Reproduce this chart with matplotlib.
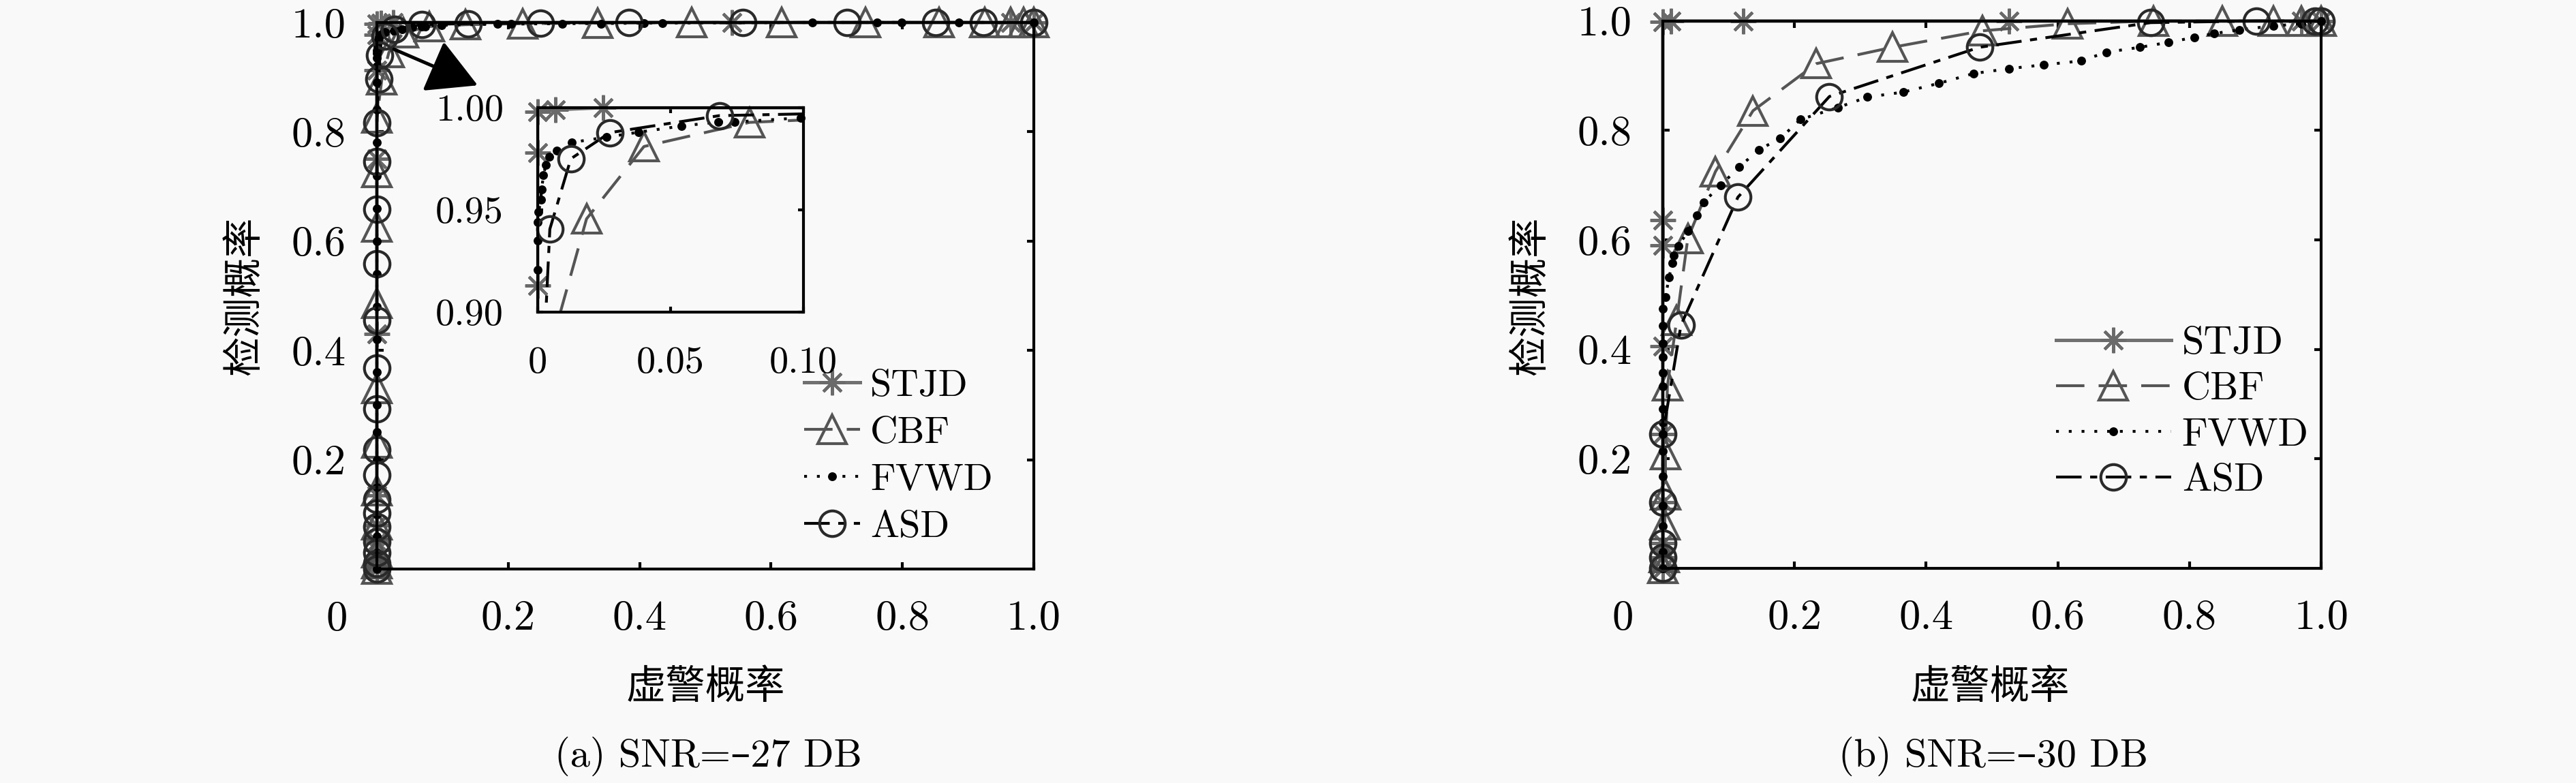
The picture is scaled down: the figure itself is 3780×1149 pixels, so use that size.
import numpy as np
import matplotlib
matplotlib.use('Agg')
import matplotlib.pyplot as plt

plt.rcParams['font.family'] = 'cmr10'
plt.rcParams['mathtext.fontset'] = 'cm'
plt.rcParams['axes.formatter.use_mathtext'] = True

# ---- data: panel (a) SNR=-27 dB ----
stjd_a_x = [0, 0, 0, 0, 0, 0, 0, 0, 0, 0, 0, 0, 0, 0.0066, 0.0247, 0.54, 0.965, 1.0]
stjd_a_y = [0, 0.005, 0.01, 0.02, 0.035, 0.05, 0.08, 0.135, 0.43, 0.75, 0.913, 0.978, 0.998,
            0.999, 1.0, 1.0, 1.0, 1.0]

cbf_a_x = [0, 0, 0, 0, 0, 0, 0, 0, 0, 0, 0, 0.0075, 0.0184, 0.04, 0.0797, 0.135, 0.222, 0.336,
           0.479, 0.616, 0.744, 0.856, 0.925, 0.965, 0.985, 1.0]
cbf_a_y = [0, 0.01, 0.03, 0.081, 0.143, 0.231, 0.33, 0.486, 0.626, 0.726, 0.825, 0.895, 0.9456,
           0.981, 0.9928, 0.996, 0.998, 0.999, 1.0, 1.0, 1.0, 1.0, 1.0, 1.0, 1.0, 1.0]

fvwd_a_x = [0, 0, 0, 0, 0, 0, 0, 0, 0, 0, 0, 0, 0, 0, 0, 0, 0, 0, 0, 0, 0,
            0.0004, 0.0012, 0.0015, 0.0022, 0.0031, 0.0043, 0.0072, 0.0129, 0.026, 0.038, 0.054,
            0.068, 0.074, 0.099, 0.184, 0.204, 0.282, 0.341, 0.407, 0.435, 0.663, 0.761, 0.799,
            0.886, 1.0]
fvwd_a_y = [0, 0.03, 0.06, 0.1, 0.15, 0.2, 0.25, 0.3, 0.36, 0.42, 0.48, 0.54, 0.6, 0.66, 0.72,
            0.78, 0.84, 0.89, 0.9206, 0.935, 0.944,
            0.949, 0.955, 0.96, 0.967, 0.972, 0.976, 0.979, 0.983, 0.9856, 0.988, 0.991,
            0.993, 0.993, 0.995, 0.997, 0.997, 0.998, 0.998, 0.999, 0.999, 1.0, 1.0, 1.0,
            1.0, 1.0]

asd_a_x = [0, 0, 0, 0, 0, 0, 0, 0, 0, 0, 0, 0, 0, 0, 0, 0,
           0.003, 0.0046, 0.0125, 0.0272, 0.0684, 0.139, 0.249, 0.384, 0.557, 0.716, 0.851,
           0.923, 1.0]
asd_a_y = [0, 0.01, 0.03, 0.05, 0.077, 0.102, 0.127, 0.172, 0.218, 0.293, 0.368, 0.455, 0.559,
           0.658, 0.746, 0.817,
           0.897, 0.9406, 0.975, 0.9878, 0.9961, 0.998, 0.999, 1.0, 1.0, 1.0, 1.0, 1.0, 1.0]

# ---- data: panel (b) SNR=-30 dB ----
stjd_b_x = [0, 0, 0, 0, 0, 0, 0, 0, 0, 0.012, 0.122, 0.526, 0.97, 1.0]
stjd_b_y = [0, 0.02, 0.046, 0.121, 0.245, 0.406, 0.59, 0.636, 0.999, 1.0, 1.0, 1.0, 1.0, 1.0]

cbf_b_x = [0, 0.002, 0.003, 0.004, 0.004, 0.007, 0.021, 0.038, 0.08, 0.137, 0.233, 0.349, 0.485,
           0.615, 0.745, 0.85, 0.927, 0.97, 1.0]
cbf_b_y = [0, 0.02, 0.08, 0.135, 0.208, 0.333, 0.453, 0.603, 0.725, 0.836, 0.922, 0.952, 0.982,
           0.995, 1.0, 1.0, 1.0, 1.0, 1.0]

fvwd_b_x = [0, 0, 0, 0, 0, 0, 0, 0, 0, 0, 0, 0, 0, 0, 0,
            0.004, 0.0095, 0.0145, 0.017, 0.024, 0.038, 0.052, 0.062, 0.088, 0.116, 0.146,
            0.178, 0.209, 0.266, 0.311, 0.365, 0.419, 0.472, 0.526, 0.579, 0.635, 0.674, 0.725,
            0.768, 0.807, 0.837, 0.876, 0.927, 0.97, 1.0]
fvwd_b_y = [0, 0.03, 0.077, 0.114, 0.168, 0.214, 0.245, 0.266, 0.291, 0.332, 0.357, 0.386, 0.411,
            0.443, 0.474,
            0.495, 0.532, 0.558, 0.572, 0.589, 0.616, 0.645, 0.669, 0.70, 0.733, 0.765,
            0.785, 0.82, 0.842, 0.861, 0.870, 0.886, 0.904, 0.913, 0.920, 0.927, 0.943, 0.952,
            0.961, 0.970, 0.977, 0.984, 0.991, 0.995, 1.0]

asd_b_x = [0, 0, 0, 0, 0, 0.0275, 0.114, 0.253, 0.481, 0.741, 0.901, 0.991, 1.0]
asd_b_y = [0, 0.02, 0.046, 0.121, 0.245, 0.444, 0.678, 0.862, 0.952, 0.997, 1.0, 1.0, 1.0]

names = ['STJD', 'CBF', 'FVWD', 'ASD']
tick_vals = [0.2, 0.4, 0.6, 0.8, 1.0]
tick_labels = ['0.2', '0.4', '0.6', '0.8', '1.0']
inset_xticks = [0, 0.05, 0.10]
inset_xlabels = ['0', '0.05', '0.10']
inset_yticks = [0.90, 0.95, 1.00]
inset_ylabels = ['0.90', '0.95', '1.00']

styles = {
    'STJD': dict(color='#707070', ls='-', lw=1.2, marker=(8, 2, 0), ms=9, mew=1.0,
                 mfc='none', mec='#6a6a6a'),
    'CBF': dict(color='#555555', ls=(0, (10, 5)), lw=1.0, marker='^', ms=10, mew=1.0,
                mfc='none', mec='#555555'),
    'FVWD': dict(color='k', ls=(0, (1, 3.5)), lw=1.0, marker='o', ms=2.6, mew=0.5,
                 mfc='k', mec='k'),
    'ASD': dict(color='k', ls=(0, (9, 3, 2.5, 3)), lw=1.0, marker='o', ms=9, mew=1.0,
                mfc='none', mec='#2a2a2a'),
}

bg = '#f9f9f9'
fig = plt.figure(figsize=(12.6, 3.83), dpi=300, facecolor=bg)


def style_axes(ax):
    ax.set_facecolor(bg)
    ax.set_xlim(0, 1)
    ax.set_ylim(0, 1)
    ax.set_xticks(tick_vals)
    ax.set_xticklabels(tick_labels)
    ax.set_yticks(tick_vals)
    ax.set_yticklabels(tick_labels)
    ax.tick_params(direction='in', top=True, right=True, length=2.5, width=1.0,
                   labelsize=15, pad=11)
    for s in ax.spines.values():
        s.set_linewidth(1.0)
    # lone "0" at the corner
    ax.annotate('0', xy=(0, 0), xycoords='axes fraction', xytext=(-14.2, -17.8),
                textcoords='offset points', ha='center', va='center', fontsize=15)


def draw_panel(ax, data):
    handles = []
    for name, (xs, ys) in zip(names, data):
        h, = ax.plot(xs, ys, clip_on=False, **styles[name])
        handles.append(h)
    return handles


ax_a = fig.add_axes([0.1463, 0.2733, 0.2550, 0.6980])
ax_b = fig.add_axes([0.6455, 0.2742, 0.2556, 0.6990])
style_axes(ax_a)
style_axes(ax_b)

data_a = [(stjd_a_x, stjd_a_y), (cbf_a_x, cbf_a_y), (fvwd_a_x, fvwd_a_y), (asd_a_x, asd_a_y)]
data_b = [(stjd_b_x, stjd_b_y), (cbf_b_x, cbf_b_y), (fvwd_b_x, fvwd_b_y), (asd_b_x, asd_b_y)]
h_a = draw_panel(ax_a, data_a)
h_b = draw_panel(ax_b, data_b)

ax_a.legend(h_a, names, loc='upper left', bbox_to_anchor=(0.650, 0.366), frameon=False,
            fontsize=13.5, handlelength=1.46, handletextpad=0.27, labelspacing=0.33,
            borderpad=0, borderaxespad=0)
ax_b.legend(h_b, names, loc='upper left', bbox_to_anchor=(0.597, 0.443), frameon=False,
            fontsize=14, handlelength=2.9, handletextpad=0.27, labelspacing=0.26,
            borderpad=0, borderaxespad=0)

# arrow pointing to the zoomed inset
ax_a.annotate('', xy=(0.1535, 0.885), xytext=(0.026, 0.951),
              arrowprops=dict(arrowstyle='-|>,head_length=0.4,head_width=0.22',
                              mutation_scale=38, color='k', lw=1.2, shrinkA=0, shrinkB=0))

# inset of panel (a)
ax_in = fig.add_axes([0.2087, 0.6014, 0.1032, 0.2611])
ax_in.set_facecolor(bg)
ax_in.set_xlim(0, 0.1)
ax_in.set_ylim(0.9, 1.0)
ax_in.set_xticks(inset_xticks)
ax_in.set_xticklabels(inset_xlabels)
ax_in.set_yticks(inset_yticks)
ax_in.set_yticklabels(inset_ylabels)
ax_in.tick_params(direction='in', top=True, right=True, length=2.0, width=1.0,
                  labelsize=13.5, pad=12)
for s in ax_in.spines.values():
    s.set_linewidth(1.0)
for name, (xs, ys) in zip(names, data_a):
    st = dict(styles[name])
    x = np.array(xs)
    y = np.array(ys)
    ax_in.plot(x, y, color=st['color'], ls=st['ls'], lw=st['lw'])
    m = (x <= 0.1) & (y >= 0.9)
    ax_in.plot(x[m], y[m], ls='none', marker=st['marker'], ms=st['ms'], mew=st['mew'],
               mfc=st['mfc'], mec=st['mec'], clip_on=False)

# labels and captions
cjk = 'Noto Sans CJK SC'
for xc, yl_x, cap in [(0.2751, 0.0947, '(a) SNR=\u201327 DB'),
                      (0.7738, 0.594, '(b) SNR=\u201330 DB')]:
    fig.text(xc - 0.0013, 0.1227, '虚警概率', ha='center', va='center', fontsize=14, family=cjk)
    fig.text(yl_x, 0.622, '检测概率', ha='center', va='center', rotation=90, fontsize=14,
             family=cjk)
    fig.text(xc, 0.034, cap, ha='center', va='center', fontsize=14,
             family=['cmr10', 'DejaVu Serif'])

fig.savefig('out.png', dpi=300, facecolor=bg)
